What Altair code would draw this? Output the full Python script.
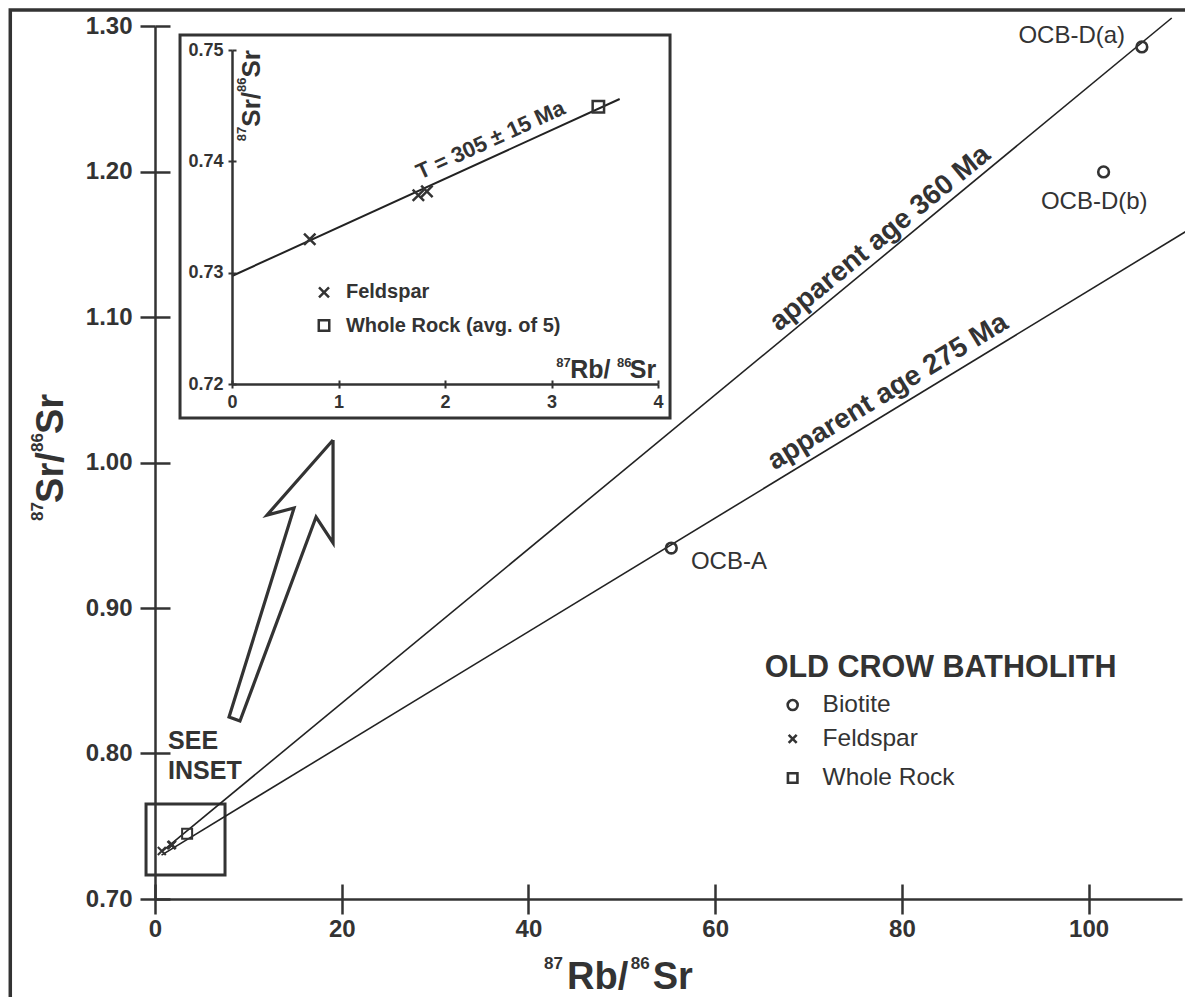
import altair as alt
import pandas as pd

FONT = "Liberation Sans"
INK = "#333333"
CROSS = "M-1,-1L1,1M-1,1L1,-1"

# ---------------- main panel data ----------------
x_ticks = [0, 20, 40, 60, 80, 100]
y_ticks = [0.70, 0.80, 0.90, 1.00, 1.10, 1.20, 1.30]

biotite_x = [55.3, 105.7, 101.6]
biotite_y = [0.9412, 1.2856, 1.1997]

feldspar_x = [0.73, 1.75, 1.83]
feldspar_y = [0.7330, 0.73695, 0.7373]
wholerock_x = [3.44]
wholerock_y = [0.7449]

line360_x = [0.7, 108.9]
line360_y = [0.7324, 1.3055]
line275_x = [0.7, 111.5]
line275_y = [0.7302, 1.1630]

sample_labels = ["OCB-A", "OCB-D(a)", "OCB-D(b)"]
sample_label_x = [57.4, 103.9, 100.6]
sample_label_y = [0.9316, 1.2931, 1.1790]
sample_label_align = ["left", "right", "center"]

age_labels = ["apparent age 360 Ma", "apparent age 275 Ma"]
age_label_x = [78.9, 79.5]
age_label_y = [1.1444, 1.0379]
age_label_angle = [320.65, 328.67]

legend_title = "OLD CROW BATHOLITH"
legend_title_x = [65.3]
legend_title_y = [0.8588]
legend_names = ["Biotite", "Feldspar", "Whole Rock"]
legend_sym_x = [68.3, 68.3, 68.3]
legend_text_x = [71.5, 71.5, 71.5]
legend_y = [0.8333, 0.8100, 0.7832]

see_inset_text = ["SEE", "INSET"]
see_inset_x = [1.4, 1.4]
see_inset_y = [0.8086, 0.7880]

zoom_box_x = [-0.96, 7.5]
zoom_box_y = [0.7165, 0.7653]

frame_x = [-15.5, 130.0]
frame_y = [0.50, 1.311]

arrow_x = [19.07, 19.07, 17.25, 9.10, 7.93, 14.89, 12.00, 19.07]
arrow_y = [1.0155, 0.9447, 0.9625, 0.8223, 0.8251, 0.9687, 0.9639, 1.0155]

# axis titles split into isotope superscripts and element symbols
x_title_parts = ["87", "Rb/", "86", "Sr"]
x_title_small = [True, False, True, False]
x_title_pos_x = [41.67, 44.13, 50.95, 53.30]
x_title_pos_y = [0.6519, 0.6381, 0.6519, 0.6381]

y_title_parts = ["87", "Sr/", "86", "Sr"]
y_title_small = [True, False, True, False]
y_title_pos_x = [-11.99, -9.85, -11.99, -9.85]
y_title_pos_y = [0.9598, 0.9722, 1.0072, 1.0196]

# ---------------- inset data ----------------
inset_x_ticks = [0, 1, 2, 3, 4]
inset_y_ticks = [0.72, 0.73, 0.74, 0.75]
inset_line_x = [0.0, 3.64]
inset_line_y = [0.7297, 0.7456]
inset_legend_names = ["Feldspar", "Whole Rock (avg. of 5)"]
inset_legend_sym_x = [0.864, 0.864]
inset_legend_text_x = [1.07, 1.07]
inset_legend_y = [0.72822, 0.72525]
inset_age_label = ["T = 305 \u00b1 15 Ma"]
inset_age_x = [2.49]
inset_age_y = [0.7406]
inset_frame_x = [-0.488, 4.113]
inset_frame_y = [0.71694, 0.75135]

inset_x_title_pos_x = [3.045, 3.176, 3.615, 3.735]
inset_x_title_pos_y = [0.72156, 0.72057, 0.72156, 0.72057]
inset_y_title_pos_x = [0.131, 0.263, 0.131, 0.263]
inset_y_title_pos_y = [0.74181, 0.74311, 0.74622, 0.74752]

# ---------------- scales ----------------
xs = alt.Scale(domain=[0, 110], nice=False, zero=False)
ys = alt.Scale(domain=[0.70, 1.30], nice=False, zero=False)
ixs = alt.Scale(domain=[0, 4], range=[77, 503], nice=False, zero=False)
iys = alt.Scale(domain=[0.72, 0.75], range=[358, 24], nice=False, zero=False)


def XY(xsc, ysc, xf="x", yf="y"):
    return dict(x=alt.X(f"{xf}:Q", scale=xsc, axis=None),
                y=alt.Y(f"{yf}:Q", scale=ysc, axis=None))


def rect_layer(bx, by, xsc, ysc, sw, fill_white=False):
    df = pd.DataFrame({"x": [bx[0]], "x2": [bx[1]], "y": [by[0]], "y2": [by[1]]})
    if fill_white:
        mk = alt.Chart(df).mark_rect(fill="white", stroke=INK, strokeWidth=sw)
    else:
        mk = alt.Chart(df).mark_rect(fillOpacity=0, stroke=INK, strokeWidth=sw)
    return mk.encode(x=alt.X("x:Q", scale=xsc, axis=None), x2="x2:Q",
                     y=alt.Y("y:Q", scale=ysc, axis=None), y2="y2:Q")


def title_layers(parts, small, px, py, xsc, ysc, big_size, small_size, angle=0):
    out = []
    for t, sm, x, y in zip(parts, small, px, py):
        d = pd.DataFrame({"x": [x], "y": [y], "t": [t]})
        kw = dict(font=FONT, fontSize=small_size if sm else big_size, fontWeight="bold",
                  color=INK, align="left", baseline="alphabetic")
        if angle:
            kw["angle"] = angle
        out.append(alt.Chart(d).mark_text(**kw).encode(text="t:N", **XY(xsc, ysc)))
    return out


# ---------------- main layers ----------------
main_layers = []
main_layers.append(rect_layer(frame_x, frame_y, xs, ys, 3.5))
main_layers.append(rect_layer(zoom_box_x, zoom_box_y, xs, ys, 3))

lines_df = pd.DataFrame({
    "x": line360_x + line275_x,
    "y": line360_y + line275_y,
    "age": ["360", "360", "275", "275"],
    "i": [0, 1, 0, 1],
})
main_layers.append(alt.Chart(lines_df).mark_line(color="#222222", strokeWidth=1.6).encode(
    detail="age:N", order="i:Q", **XY(xs, ys)))

arrow_df = pd.DataFrame({"x": arrow_x, "y": arrow_y, "i": list(range(len(arrow_x)))})
main_layers.append(alt.Chart(arrow_df).mark_line(color=INK, strokeWidth=3.2, strokeJoin="miter").encode(
    order="i:Q", **XY(xs, ys)))

bio_df = pd.DataFrame({"x": biotite_x, "y": biotite_y})
main_layers.append(alt.Chart(bio_df).mark_point(shape="circle", filled=False, size=115, strokeWidth=2.6,
                                                color=INK, opacity=1).encode(**XY(xs, ys)))
feld_df = pd.DataFrame({"x": feldspar_x, "y": feldspar_y})
main_layers.append(alt.Chart(feld_df).mark_point(shape=CROSS, filled=False, size=64, strokeWidth=2,
                                                 color=INK, opacity=1).encode(**XY(xs, ys)))
wr_df = pd.DataFrame({"x": wholerock_x, "y": wholerock_y})
main_layers.append(alt.Chart(wr_df).mark_point(shape="square", filled=False, size=100, strokeWidth=2,
                                               color=INK, opacity=1).encode(**XY(xs, ys)))

for lab, lx, ly, al in zip(sample_labels, sample_label_x, sample_label_y, sample_label_align):
    d = pd.DataFrame({"x": [lx], "y": [ly], "t": [lab]})
    main_layers.append(alt.Chart(d).mark_text(font=FONT, fontSize=24, color=INK, align=al,
                                              baseline="middle").encode(text="t:N", **XY(xs, ys)))

for lab, lx, ly, ang in zip(age_labels, age_label_x, age_label_y, age_label_angle):
    d = pd.DataFrame({"x": [lx], "y": [ly], "t": [lab]})
    main_layers.append(alt.Chart(d).mark_text(font=FONT, fontSize=28, fontWeight="bold", color=INK,
                                              align="center", baseline="bottom", angle=ang, dy=-4)
                       .encode(text="t:N", **XY(xs, ys)))

lt_df = pd.DataFrame({"x": legend_title_x, "y": legend_title_y, "t": [legend_title]})
main_layers.append(alt.Chart(lt_df).mark_text(font=FONT, fontSize=30.5, fontWeight="bold", color=INK,
                                              align="left", baseline="middle").encode(text="t:N", **XY(xs, ys)))
leg_df = pd.DataFrame({"x": legend_text_x, "y": legend_y, "t": legend_names})
main_layers.append(alt.Chart(leg_df).mark_text(font=FONT, fontSize=24.5, color=INK, align="left",
                                               baseline="middle").encode(text="t:N", **XY(xs, ys)))
for shp, sz, k in [("circle", 100, 0), (CROSS, 64, 1), ("square", 90, 2)]:
    d = pd.DataFrame({"x": [legend_sym_x[k]], "y": [legend_y[k]]})
    main_layers.append(alt.Chart(d).mark_point(shape=shp, filled=False, size=sz, strokeWidth=2.6,
                                               color=INK, opacity=1).encode(**XY(xs, ys)))

see_df = pd.DataFrame({"x": see_inset_x, "y": see_inset_y, "t": see_inset_text})
main_layers.append(alt.Chart(see_df).mark_text(font=FONT, fontSize=25, fontWeight="bold", color=INK,
                                               align="left", baseline="middle").encode(text="t:N", **XY(xs, ys)))

main_layers += title_layers(x_title_parts, x_title_small, x_title_pos_x, x_title_pos_y, xs, ys, 38, 17)
main_layers += title_layers(y_title_parts, y_title_small, y_title_pos_x, y_title_pos_y, xs, ys, 38, 17,
                            angle=270)

axis_df = pd.DataFrame({"x": [0.0], "y": [0.70]})
axA = alt.Chart(axis_df).mark_point(opacity=0).encode(
    x=alt.X("x:Q", scale=xs, axis=alt.Axis(
        orient="bottom", values=x_ticks, format="d", grid=False, labelFlush=False, zindex=1,
        tickSize=15, tickWidth=2.5, tickColor=INK, domainColor=INK, domainWidth=2.5,
        labelFont=FONT, labelFontSize=24, labelFontWeight="bold", labelColor=INK, labelPadding=3,
        title=None)),
    y=alt.Y("y:Q", scale=ys, axis=alt.Axis(
        orient="left", values=y_ticks, format=".2f", grid=False, zindex=1,
        tickSize=15, tickWidth=2.5, tickColor=INK, domainColor=INK, domainWidth=2.5,
        labelFont=FONT, labelFontSize=24, labelFontWeight="bold", labelColor=INK, labelPadding=8,
        title=None)),
)
axB = alt.Chart(axis_df).mark_point(opacity=0).encode(
    x=alt.X("x:Q", scale=xs, axis=alt.Axis(
        orient="bottom", offset=-15, values=x_ticks, grid=False, labels=False, domain=False, zindex=1,
        tickSize=15, tickWidth=2.5, tickColor=INK, title=None)),
    y=alt.Y("y:Q", scale=ys, axis=alt.Axis(
        orient="left", offset=-15, values=y_ticks, grid=False, labels=False, domain=False, zindex=1,
        tickSize=15, tickWidth=2.5, tickColor=INK, title=None)),
)
main_layers += [axA, axB]

# ---------------- inset layers ----------------
inset_layers = []
inset_layers.append(rect_layer(inset_frame_x, inset_frame_y, ixs, iys, 3, fill_white=True))

il_df = pd.DataFrame({"x": inset_line_x, "y": inset_line_y})
inset_layers.append(alt.Chart(il_df).mark_line(color="#222222", strokeWidth=2).encode(**XY(ixs, iys)))
inset_layers.append(alt.Chart(feld_df).mark_point(shape=CROSS, filled=False, size=130, strokeWidth=2.5,
                                                  color=INK, opacity=1).encode(**XY(ixs, iys)))
inset_layers.append(alt.Chart(wr_df).mark_point(shape="square", filled=False, size=130, strokeWidth=2.5,
                                                color=INK, opacity=1).encode(**XY(ixs, iys)))

ileg_df = pd.DataFrame({"x": inset_legend_text_x, "y": inset_legend_y, "t": inset_legend_names})
inset_layers.append(alt.Chart(ileg_df).mark_text(font=FONT, fontSize=20, fontWeight="bold", color=INK,
                                                 align="left", baseline="middle").encode(text="t:N", **XY(ixs, iys)))
for shp, sz, k in [(CROSS, 100, 0), ("square", 110, 1)]:
    d = pd.DataFrame({"x": [inset_legend_sym_x[k]], "y": [inset_legend_y[k]]})
    inset_layers.append(alt.Chart(d).mark_point(shape=shp, filled=False, size=sz, strokeWidth=2.5,
                                                color=INK, opacity=1).encode(**XY(ixs, iys)))

ia_df = pd.DataFrame({"x": inset_age_x, "y": inset_age_y, "t": inset_age_label})
inset_layers.append(alt.Chart(ia_df).mark_text(font=FONT, fontSize=22, fontWeight="bold", color=INK,
                                               align="center", baseline="bottom", angle=335.5, dy=-4)
                    .encode(text="t:N", **XY(ixs, iys)))

inset_layers += title_layers(x_title_parts, x_title_small, inset_x_title_pos_x, inset_x_title_pos_y,
                             ixs, iys, 25, 13)
inset_layers += title_layers(y_title_parts, y_title_small, inset_y_title_pos_x, inset_y_title_pos_y,
                             ixs, iys, 26, 13, angle=270)

iax_df = pd.DataFrame({"x": [0.0], "y": [0.72]})
iaxA = alt.Chart(iax_df).mark_point(opacity=0).encode(
    x=alt.X("x:Q", scale=ixs, axis=alt.Axis(
        orient="bottom", offset=-515, values=inset_x_ticks, format="d", grid=False, labelFlush=False,
        zindex=2, tickSize=4, tickWidth=2, tickColor=INK, domainColor=INK, domainWidth=2.5,
        labelFont=FONT, labelFontSize=18, labelFontWeight="bold", labelColor=INK, labelPadding=5,
        title=None)),
    y=alt.Y("y:Q", scale=iys, axis=alt.Axis(
        orient="left", offset=-77, values=inset_y_ticks, format=".2f", grid=False, zindex=2,
        tickSize=4, tickWidth=2, tickColor=INK, domainColor=INK, domainWidth=2.5,
        labelFont=FONT, labelFontSize=18, labelFontWeight="bold", labelColor=INK, labelPadding=5,
        title=None)),
)
iaxB = alt.Chart(iax_df).mark_point(opacity=0).encode(
    x=alt.X("x:Q", scale=ixs, axis=alt.Axis(
        orient="bottom", offset=-519, values=inset_x_ticks, grid=False, labels=False, domain=False,
        zindex=2, tickSize=4, tickWidth=2, tickColor=INK, title=None)),
    y=alt.Y("y:Q", scale=iys, axis=alt.Axis(
        orient="left", offset=-81, values=inset_y_ticks, grid=False, labels=False, domain=False,
        zindex=2, tickSize=4, tickWidth=2, tickColor=INK, title=None)),
)
inset_layers += [iaxA, iaxB]

main = alt.layer(*main_layers).resolve_axis(x="independent", y="independent")
inset = alt.layer(*inset_layers).resolve_axis(x="independent", y="independent")

chart = (
    alt.layer(main, inset)
    .resolve_scale(x="independent", y="independent")
    .properties(
        width=1027, height=873,
        autosize=alt.AutoSizeParams(type="none"),
        padding={"left": 147, "top": 18, "right": 3, "bottom": 98},
        background="white",
    )
    .configure_view(strokeWidth=0)
)

chart.save("out.html", embed_options={"renderer": "svg", "actions": False})
